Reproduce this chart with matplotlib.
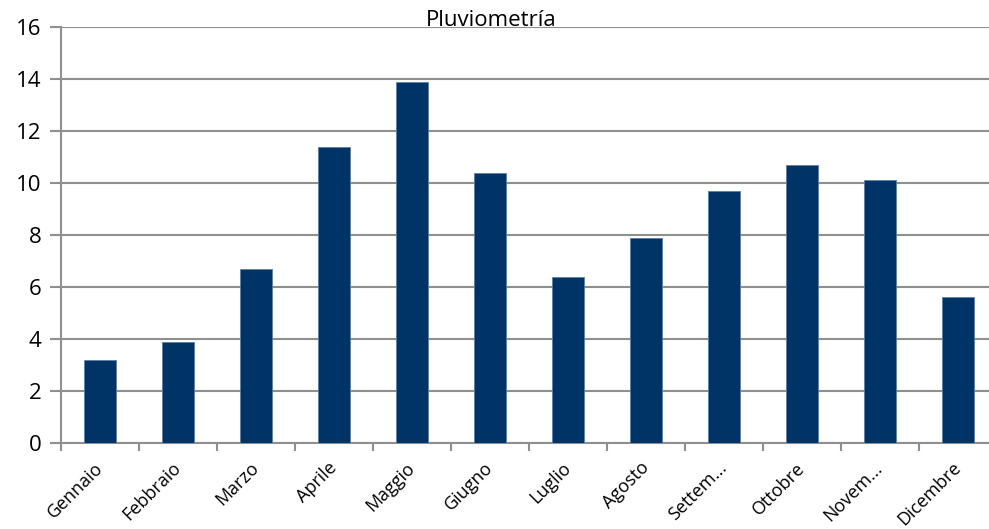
import matplotlib.pyplot as plt
import numpy as np

# monthly rainfall
mesi = ["Gennaio", "Febbraio", "Marzo", "Aprile", "Maggio", "Giugno",
        "Luglio", "Agosto", "Settem...", "Ottobre", "Novem...", "Dicembre"]
pioggia = [3.2, 3.9, 6.7, 11.4, 13.9, 10.4, 6.4, 7.9, 9.7, 10.7, 10.1, 5.6]
y_ticks = [0, 2, 4, 6, 8, 10, 12, 14, 16]

plt.rcParams['font.family'] = ['Open Sans', 'DejaVu Sans']

fig = plt.figure(figsize=(9.89, 5.29), dpi=100)
ax = fig.add_axes([61 / 989, 86 / 529, 936 / 989, 416 / 529])

x = np.arange(len(mesi)) + 0.5
ax.bar(x, pioggia, width=0.4, color='#003366', edgecolor='#5a7fa6',
       linewidth=0.6, zorder=3)

grid_col = '#8f8f8f'
ax.set_xlim(0, len(mesi))
ax.set_ylim(0, 16)
ax.set_yticks(y_ticks)
ax.set_yticklabels([str(v) for v in y_ticks], fontsize=16)
ax.yaxis.grid(True, color=grid_col, linewidth=1.5, zorder=0)
ax.tick_params(axis='y', length=8, width=1.5, color=grid_col, pad=6)

# category labels at centres, tick marks at boundaries
ax.set_xticks(x)
ax.set_xticklabels(mesi, rotation=45, ha='right', va='center',
                   rotation_mode='anchor', fontsize=13)
ax.tick_params(axis='x', which='major', length=0, pad=16)
ax.set_xticks(np.arange(len(mesi) + 1), minor=True)
ax.tick_params(axis='x', which='minor', length=6, width=1.5, color=grid_col)

for s in ['top', 'right']:
    ax.spines[s].set_visible(False)
for s in ['left', 'bottom']:
    ax.spines[s].set_color(grid_col)
    ax.spines[s].set_linewidth(1.5)

fig.text(491 / 989, 1 - 20 / 529, "Pluviometría", ha='center', va='center',
         fontsize=16)

fig.savefig("out.png", dpi=100)
